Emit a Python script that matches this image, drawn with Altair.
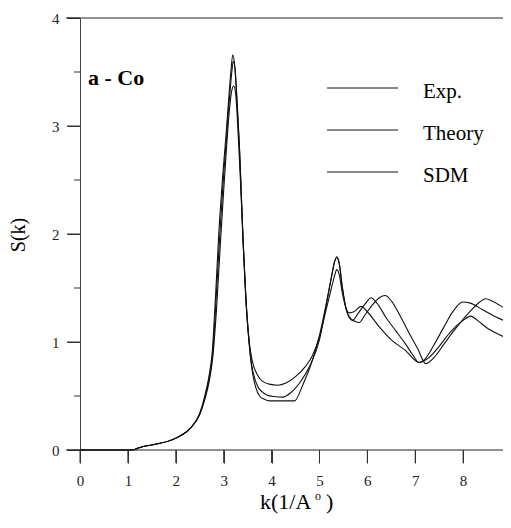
import altair as alt
import pandas as pd

# ---- data ----
k_exp = [0, 1.1, 1.2, 1.3, 1.6, 2.0, 2.3, 2.5, 2.6, 2.7, 2.76, 2.83, 2.9, 3.0, 3.05, 3.1, 3.15, 3.19,
         3.23, 3.28, 3.33, 3.4, 3.46, 3.52, 3.58, 3.65, 3.72, 3.8, 3.9, 4.05, 4.23, 4.4, 4.6, 4.8, 5.0,
         5.15, 5.25, 5.32, 5.36, 5.41, 5.48, 5.56, 5.63, 5.69, 5.8, 5.95, 6.08, 6.2, 6.4, 6.6, 6.8, 6.95,
         7.08, 7.2, 7.4, 7.6, 7.8, 7.99, 8.15, 8.4, 8.7, 9.0]
s_exp = [0, 0, 0.015, 0.03, 0.055, 0.11, 0.2, 0.34, 0.49, 0.7, 0.9, 1.42, 2.02, 2.65, 2.92, 3.22, 3.5, 3.66,
         3.56, 3.2, 2.8, 1.98, 1.42, 1.05, 0.8, 0.66, 0.58, 0.54, 0.51, 0.495, 0.49, 0.53, 0.63, 0.78, 1.02,
         1.36, 1.6, 1.75, 1.79, 1.74, 1.5, 1.3, 1.22, 1.2, 1.26, 1.35, 1.41, 1.36, 1.22, 1.1, 0.98, 0.88,
         0.81, 0.84, 0.98, 1.14, 1.29, 1.37, 1.36, 1.3, 1.23, 1.17]

k_theory = [0, 1.1, 1.2, 1.3, 1.6, 2.0, 2.3, 2.5, 2.6, 2.7, 2.77, 2.84, 2.92, 3.0, 3.06, 3.12, 3.17, 3.2,
            3.24, 3.29, 3.34, 3.41, 3.47, 3.54, 3.6, 3.67, 3.75, 3.85, 3.96, 4.48, 4.65, 4.86, 5.0, 5.14,
            5.25, 5.32, 5.36, 5.41, 5.48, 5.56, 5.65, 5.75, 5.83, 5.95, 6.1, 6.25, 6.375, 6.5, 6.7, 6.9,
            7.05, 7.22, 7.4, 7.6, 7.8, 8.0, 8.2, 8.35, 8.47, 8.6, 8.8, 9.0]
s_theory = [0, 0, 0.015, 0.03, 0.055, 0.11, 0.2, 0.33, 0.47, 0.67, 0.88, 1.38, 2.0, 2.55, 2.9, 3.25, 3.5, 3.6,
            3.52, 3.15, 2.7, 1.9, 1.35, 0.95, 0.72, 0.58, 0.5, 0.47, 0.455, 0.455, 0.6, 0.84, 1.06, 1.35,
            1.6, 1.75, 1.78, 1.73, 1.5, 1.3, 1.22, 1.19, 1.18, 1.25, 1.34, 1.41, 1.43, 1.38, 1.23, 1.06,
            0.94, 0.8, 0.86, 0.98, 1.1, 1.21, 1.31, 1.37, 1.4, 1.38, 1.33, 1.27]

k_sdm = [0, 1.1, 1.2, 1.3, 1.6, 2.0, 2.3, 2.5, 2.6, 2.7, 2.77, 2.85, 2.93, 3.0, 3.06, 3.12, 3.17, 3.21,
         3.25, 3.3, 3.35, 3.42, 3.48, 3.54, 3.6, 3.7, 3.8, 3.95, 4.13, 4.3, 4.5, 4.7, 4.86, 5.0, 5.14,
         5.25, 5.32, 5.36, 5.41, 5.48, 5.55, 5.62, 5.72, 5.87, 6.0, 6.25, 6.5, 6.8, 7.08, 7.3, 7.5, 7.75,
         8.0, 8.16, 8.3, 8.5, 8.75, 9.0]
s_sdm = [0, 0, 0.015, 0.03, 0.055, 0.11, 0.2, 0.33, 0.46, 0.64, 0.85, 1.3, 1.9, 2.4, 2.8, 3.15, 3.33, 3.37,
         3.3, 2.95, 2.5, 1.8, 1.3, 0.98, 0.82, 0.7, 0.64, 0.61, 0.6, 0.62, 0.68, 0.77, 0.88, 1.05, 1.3,
         1.5, 1.62, 1.67, 1.63, 1.45, 1.32, 1.27, 1.28, 1.33, 1.28, 1.14, 1.02, 0.92, 0.81, 0.86, 0.96,
         1.1, 1.2, 1.24, 1.2, 1.13, 1.07, 1.02]

legend_labels = ["Exp.", "Theory", "SDM"]
panel_label = "a - Co"
x_title = "k(1/A"
x_ticks = [0, 1, 2, 3, 4, 5, 6, 7, 8, 9]
y_ticks = [0, 1, 2, 3, 4]
y_minor = [0.5, 1.5, 2.5, 3.5]
frame_y = [0, 4]

# ---- build ----
W, H = 423, 432          # visible plot width (page is clipped at the right like the reference)
XR = 431                 # pixel length of k = 0..9
FONT = "Liberation Serif"
INK = "#111111"
TICK = 13

df = pd.concat([
    pd.DataFrame({"k": k_exp, "S": s_exp, "series": "Exp."}),
    pd.DataFrame({"k": k_theory, "S": s_theory, "series": "Theory"}),
    pd.DataFrame({"k": k_sdm, "S": s_sdm, "series": "SDM"}),
], ignore_index=True)

xs = alt.Scale(domain=[0, 9], range=[0, XR], nice=False, zero=False)
ys = alt.Scale(domain=[0, 4], nice=False, zero=False)

ax_x = alt.Axis(values=x_ticks, title=None, domain=False, grid=False, ticks=True, tickSize=TICK,
                tickColor="#333", tickWidth=1, labelFont=FONT, labelFontSize=15, labelColor="#222",
                labelPadding=10, labelFlush=False, labelOverlap=False, labelBound=False, format="d")
ax_y = alt.Axis(values=y_ticks, title=None, domain=True, domainColor="#444", domainWidth=1, grid=False,
                ticks=True, tickSize=TICK, tickColor="#333", tickWidth=1, labelFont=FONT, labelFontSize=15,
                labelColor="#222", labelPadding=8, labelFlush=False, labelOverlap=False, format="d")

lines = alt.Chart(df).mark_line(color=INK, strokeWidth=1.1, interpolate="monotone").encode(
    x=alt.X("k:Q", scale=xs, axis=ax_x),
    y=alt.Y("S:Q", scale=ys, axis=ax_y),
    detail="series:N",
)

minor = alt.Chart(pd.DataFrame({"S": y_minor})).mark_rule(color="#333", strokeWidth=1).encode(
    y=alt.Y("S:Q", scale=ys, axis=ax_y), x=alt.value(-6), x2=alt.value(0))

ymajor = alt.Chart(pd.DataFrame({"S": y_ticks})).mark_rule(color="#333", strokeWidth=1).encode(
    y=alt.Y("S:Q", scale=ys, axis=ax_y), x=alt.value(-TICK), x2=alt.value(0))

xmajor = alt.Chart(pd.DataFrame({"k": x_ticks})).mark_rule(color="#333", strokeWidth=1).encode(
    x=alt.X("k:Q", scale=xs, axis=ax_x), y=alt.value(H), y2=alt.value(H + TICK))

frame = alt.Chart(pd.DataFrame({"S": frame_y})).mark_rule(color="#222", strokeWidth=1).encode(
    y=alt.Y("S:Q", scale=ys, axis=ax_y), x=alt.value(-14), x2=alt.value(XR))

def label(text, x, y, size, **kw):
    return alt.Chart(pd.DataFrame({"t": [text]})).mark_text(
        font=FONT, fontSize=size, color="#000", **kw).encode(
        text="t:N", x=alt.value(x), y=alt.value(y))

layers = [lines, minor, ymajor, xmajor, frame]
layers.append(label(panel_label, 8, 67, 22, fontWeight="bold", align="left", baseline="alphabetic"))
layers.append(label("S(k)", -61, 217, 20, angle=270, align="center", baseline="middle"))
layers.append(label(x_title, 180, 491, 22, align="left", baseline="alphabetic"))
layers.append(label("o", 238, 478, 12, align="center", baseline="middle"))
layers.append(label(")", 246, 491, 22, align="left", baseline="alphabetic"))

for i, lab in enumerate(legend_labels):
    yy = 70 + 42 * i
    layers.append(alt.Chart(pd.DataFrame({"t": [lab]})).mark_rule(color=INK, strokeWidth=1).encode(
        x=alt.value(247), x2=alt.value(318), y=alt.value(yy)))
    layers.append(label(lab, 343, yy + 9.7, 21, align="left", baseline="alphabetic"))

chart = alt.layer(*layers).properties(
    width=W, height=H,
    autosize=alt.AutoSizeParams(type="none"),
    padding={"left": 72, "top": 10, "right": 0, "bottom": 66},
).configure_view(stroke=None)

chart.save("out.html", embed_options={"renderer": "svg", "actions": False})
